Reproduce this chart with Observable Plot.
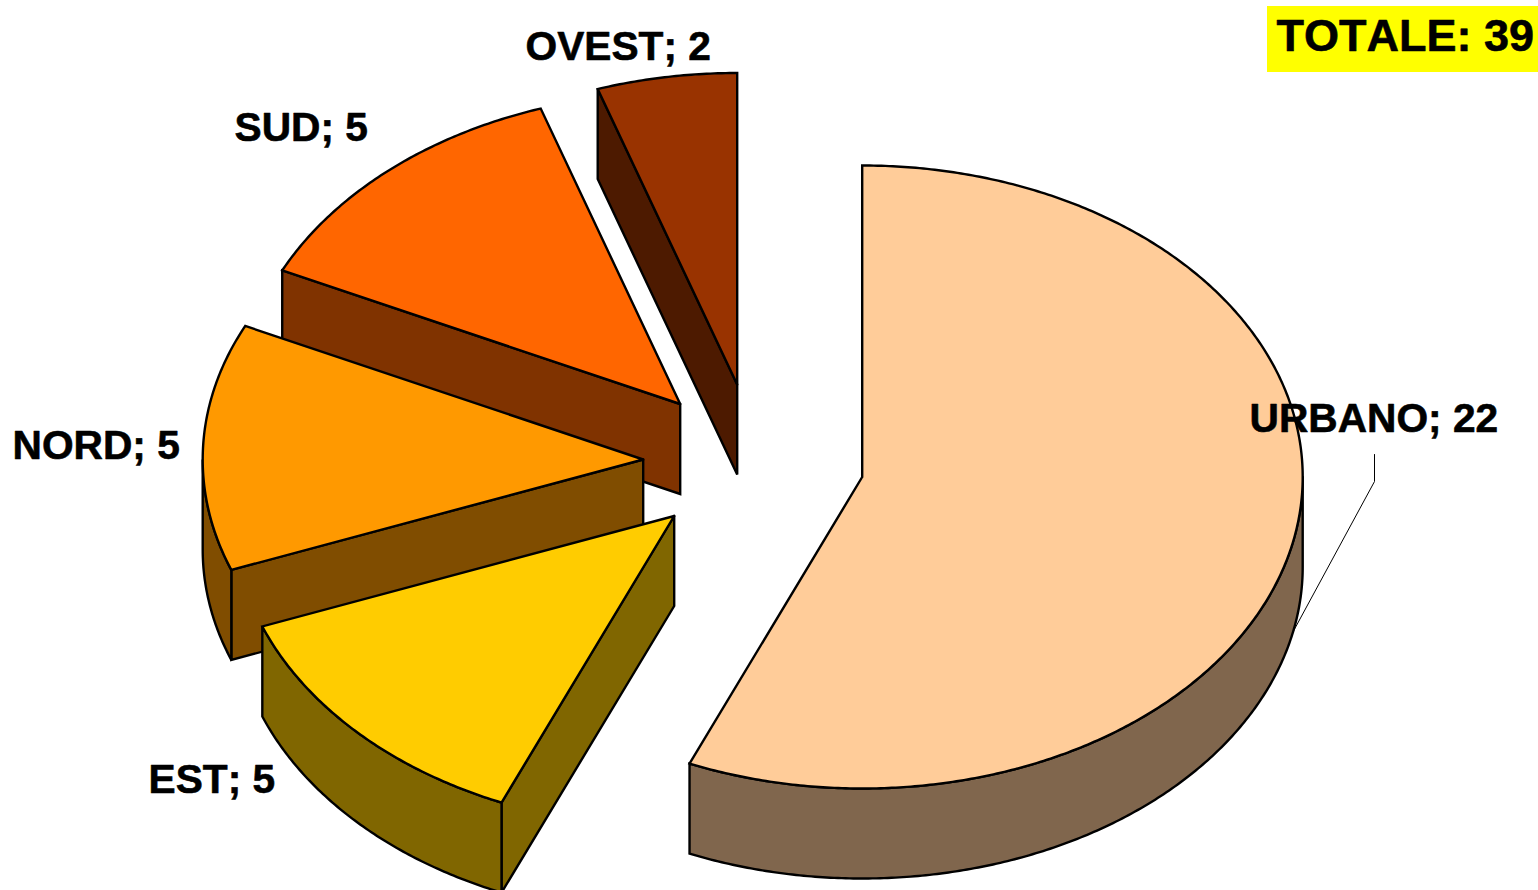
<!DOCTYPE html>
<html>
<head>
<meta charset="utf-8">
<style>html,body{margin:0;padding:0;background:#fff}svg{display:block}svg text{font-kerning:none}</style>
<script src="https://cdn.jsdelivr.net/npm/d3@7"></script>
<script src="https://cdn.jsdelivr.net/npm/@observablehq/plot@0.6"></script>
</head>
<body>
<div id="chart"></div>
<script>
const categories = ["URBANO", "EST", "NORD", "SUD", "OVEST"];
const values = [22, 5, 5, 5, 2];
const topColors = ["#FFCC99", "#FFCC00", "#FF9900", "#FF6600", "#993300"];
const sideColors = ["#80664D", "#806600", "#804D00", "#803300", "#4D1A00"];
const centerX = [861.7, 673.7, 642.7, 679.7, 736.7];
const centerY = [476.5, 515.5, 459, 403.5, 384];
const labelX = [1249, 148, 12, 234, 525];
const labelY = [431, 792, 458, 140, 59];
const totalLabel = "TOTALE";
const radiusX = 440.5, radiusY = 311.5, depth = 90;

const total = d3.sum(values);
const rad = (d) => (d * Math.PI) / 180;
let cumulative = 0;
const slices = categories.map((name, i) => {
  const start = (cumulative / total) * 360;
  cumulative += values[i];
  return {name, i, start, end: (cumulative / total) * 360};
});

const rimPoint = (s, angle, drop = 0) => ({
  x: centerX[s.i] + radiusX * Math.sin(rad(angle)),
  y: centerY[s.i] - radiusY * Math.cos(rad(angle)) + drop
});
const arc = (s, a, b, drop = 0) => {
  const n = Math.max(1, Math.ceil(Math.abs(b - a) * 2));
  return d3.range(n + 1).map((k) => rimPoint(s, a + ((b - a) * k) / n, drop));
};

const polys = [];
const addPoly = (id, fill, pts) => {
  [...pts, pts[0]].forEach((p) => polys.push({id, fill, x: p.x, y: p.y}));
};

// painter's order: from the back slice to the front one
const order = [4, 3, 2, 1, 0];
for (const i of order) {
  const s = slices[i];
  const c = {x: centerX[i], y: centerY[i]};
  const p = rimPoint(s, s.start);
  if (i !== 0) {
    addPoly(s.name + "-face", sideColors[i], [c, p, {x: p.x, y: p.y + depth}, {x: c.x, y: c.y + depth}]);
  }
  const a = Math.max(s.start, 90), b = Math.min(s.end, 270);
  if (b > a) {
    addPoly(s.name + "-rim", sideColors[i], [...arc(s, a, b), ...arc(s, b, a, depth)]);
  }
  addPoly(s.name + "-top", topColors[i], [c, ...arc(s, s.start, s.end)]);
}

const upper = polys.filter((d) => !d.id.startsWith("URBANO"));
const urbano = polys.filter((d) => d.id.startsWith("URBANO"));
const leader = [{x: 1374, y: 454}, {x: 1374, y: 481}, {x: 1290, y: 636}];

const labels = categories.map((name, i) => ({
  text: `${name}; ${values[i]}`, x: labelX[i], y: labelY[i]
}));

const polyMark = (data) => Plot.line(data, {
  x: "x", y: "y", z: "id", fill: "fill", stroke: "#000",
  strokeWidth: 2.4, strokeLinejoin: "miter", strokeMiterlimit: 4
});

const chart = Plot.plot({
  width: 1538, height: 890,
  margin: 0,
  x: {domain: [0, 1538], range: [0, 1538], axis: null},
  y: {domain: [0, 890], range: [0, 890], axis: null},
  style: {background: "#fff", fontFamily: "'Liberation Sans', Arial, sans-serif"},
  marks: [
    polyMark(upper),
    Plot.line(leader, {x: "x", y: "y", stroke: "#000", strokeWidth: 1}),
    polyMark(urbano),
    Plot.rect([{x1: 1267, x2: 1538, y1: 6, y2: 72}], {x1: "x1", x2: "x2", y1: "y1", y2: "y2", fill: "#FFFF00"}),
    Plot.text(labels, {
      x: "x", y: "y", text: "text", textAnchor: "start", lineAnchor: "bottom",
      fontSize: 40.7, fontWeight: 700, fill: "#000", stroke: "#000", strokeWidth: 0.6
    }),
    Plot.text([`${totalLabel}: ${total}`], {
      x: () => 1276, y: () => 50, text: (d) => d, textAnchor: "start", lineAnchor: "bottom",
      fontSize: 45, fontWeight: 700, fill: "#000", stroke: "#000", strokeWidth: 0.6
    })
  ]
});
document.getElementById("chart").appendChild(chart);
</script>
</body>
</html>
